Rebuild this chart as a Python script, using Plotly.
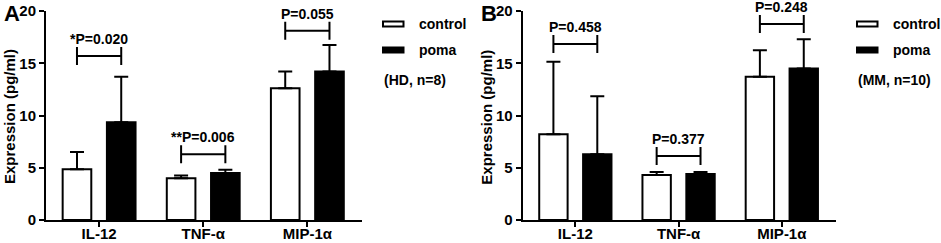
import plotly.graph_objects as go
from plotly.subplots import make_subplots

W, H = 941, 243

categories = ["IL-12", "TNF-α", "MIP-1α"]

# Panel A (HD, n=8)
hd_control = [4.85, 4.0, 12.6]
hd_control_err = [1.65, 0.25, 1.6]
hd_poma = [9.35, 4.5, 14.2]
hd_poma_err = [4.35, 0.3, 2.55]
hd_bracket_y = [15.7, 6.3, 18.1]
hd_pvals = ["*P=0.020", "**P=0.006", "P=0.055"]

# Panel B (MM, n=10)
mm_control = [8.2, 4.3, 13.7]
mm_control_err = [6.95, 0.3, 2.55]
mm_poma = [6.3, 4.4, 14.5]
mm_poma_err = [5.55, 0.2, 2.8]
mm_bracket_y = [16.85, 6.12, 18.75]
mm_pvals = ["P=0.458", "P=0.377", "P=0.248"]

y_ticks = [0, 5, 10, 15, 20]

FONT = "Liberation Sans, Arial, sans-serif"
BAR_W = 0.275
OFF_C = -0.35
OFF_P = 0.075
CEN_C = OFF_C + BAR_W / 2
CEN_P = OFF_P + BAR_W / 2


def px_x(p):
    return p / W


def px_y(p):
    return 1 - p / H


fig = make_subplots(rows=1, cols=2)

panels = [
    (1, "x", "y", hd_control, hd_control_err, hd_poma, hd_poma_err, hd_bracket_y, hd_pvals),
    (2, "x2", "y2", mm_control, mm_control_err, mm_poma, mm_poma_err, mm_bracket_y, mm_pvals),
]

shapes = []
annotations = []

for col, xr, yr, c, ce, p, pe, by, pv in panels:
    fig.add_trace(go.Bar(
        x=categories, y=c, width=BAR_W, offset=OFF_C,
        marker=dict(color="white", line=dict(color="black", width=2)),
        error_y=dict(type="data", symmetric=False, array=ce, arrayminus=[0] * len(ce),
                     color="black", thickness=2, width=7),
        showlegend=False, cliponaxis=False,
    ), row=1, col=col)
    fig.add_trace(go.Bar(
        x=categories, y=p, width=BAR_W, offset=OFF_P,
        marker=dict(color="black", line=dict(color="black", width=2)),
        error_y=dict(type="data", symmetric=False, array=pe, arrayminus=[0] * len(pe),
                     color="black", thickness=2, width=7),
        showlegend=False, cliponaxis=False,
    ), row=1, col=col)
    for i, (h, t) in enumerate(zip(by, pv)):
        x0, x1 = i + CEN_C, i + CEN_P
        shapes.append(dict(type="line", xref=xr, yref=yr, x0=x0, x1=x1, y0=h, y1=h,
                           line=dict(color="black", width=2)))
        for xx in (x0, x1):
            shapes.append(dict(type="line", xref=xr, yref=yr, x0=xx, x1=xx,
                               ysizemode="pixel", yanchor=h, y0=-9, y1=9,
                               line=dict(color="black", width=2)))
        annotations.append(dict(x=i, y=h, xref=xr, yref=yr, text=t, showarrow=False,
                                yshift=17, xanchor="center", yanchor="middle",
                                font=dict(family=FONT, size=14, color="black", weight="bold")))

# domains
a_left, a_right = 46, 361.5
b_left, b_right = 522.7, 835.5
y_top, y_bot = 11, 220

axis_common = dict(showline=True, linewidth=2, linecolor="black", showgrid=False,
                   zeroline=False, ticks="outside", ticklen=5, tickwidth=2, tickcolor="black",
                   automargin=False,
                   tickfont=dict(family=FONT, size=15, color="black", weight="bold"))

fig.update_xaxes(axis_common, range=[-0.51, 2.52], type="category", ticklabelstandoff=-6)
fig.update_yaxes(axis_common, range=[0, 20], tickvals=y_ticks)
fig.update_layout(
    xaxis=dict(domain=[px_x(a_left), px_x(a_right)]),
    xaxis2=dict(domain=[px_x(b_left), px_x(b_right)]),
    yaxis=dict(domain=[px_y(y_bot), px_y(y_top)]),
    yaxis2=dict(domain=[px_y(y_bot), px_y(y_top)]),
)

# y axis titles, panel labels, legends
for left, right, lab, note in [(a_left, a_right, "A", "(HD, n=8)"), (b_left, b_right, "B", "(MM, n=10)")]:
    annotations.append(dict(x=px_x(left - 36), y=px_y(117), xref="paper", yref="paper",
                            text="Expression (pg/ml)", textangle=-90, showarrow=False,
                            xanchor="center", yanchor="middle",
                            font=dict(family=FONT, size=15, color="black", weight="bold")))
    annotations.append(dict(x=px_x(left - 44), y=px_y(14), xref="paper", yref="paper",
                            text=lab, showarrow=False, xanchor="left", yanchor="middle",
                            font=dict(family=FONT, size=22, color="black", weight="bold")))
    bx0 = right + 21.5
    bx1 = bx0 + 20.5
    for yc, fill, name in [(24, "white", "control"), (50, "black", "poma")]:
        shapes.append(dict(type="rect", xref="paper", yref="paper",
                           x0=px_x(bx0), x1=px_x(bx1), y0=px_y(yc + 2.5), y1=px_y(yc - 2.5),
                           fillcolor=fill, line=dict(color="black", width=2)))
        annotations.append(dict(x=px_x(bx1 + 13), y=px_y(yc), xref="paper", yref="paper",
                                text=name, showarrow=False, xanchor="left", yanchor="middle",
                                font=dict(family=FONT, size=14, color="black", weight="bold")))
    annotations.append(dict(x=px_x(bx0 - 1), y=px_y(80), xref="paper", yref="paper",
                            text=note, showarrow=False, xanchor="left", yanchor="middle",
                            font=dict(family=FONT, size=14, color="black", weight="bold")))

fig.update_layout(
    width=W, height=H, margin=dict(l=0, r=0, t=0, b=0, autoexpand=False),
    plot_bgcolor="white", paper_bgcolor="white",
    barmode="overlay", showlegend=False,
    shapes=shapes, annotations=annotations,
    font=dict(family=FONT, color="black"),
)

fig.write_html(
    "out.html",
    config={"displayModeBar": False},
    post_script="document.body.style.margin='0';document.body.style.overflow='hidden';",
)
